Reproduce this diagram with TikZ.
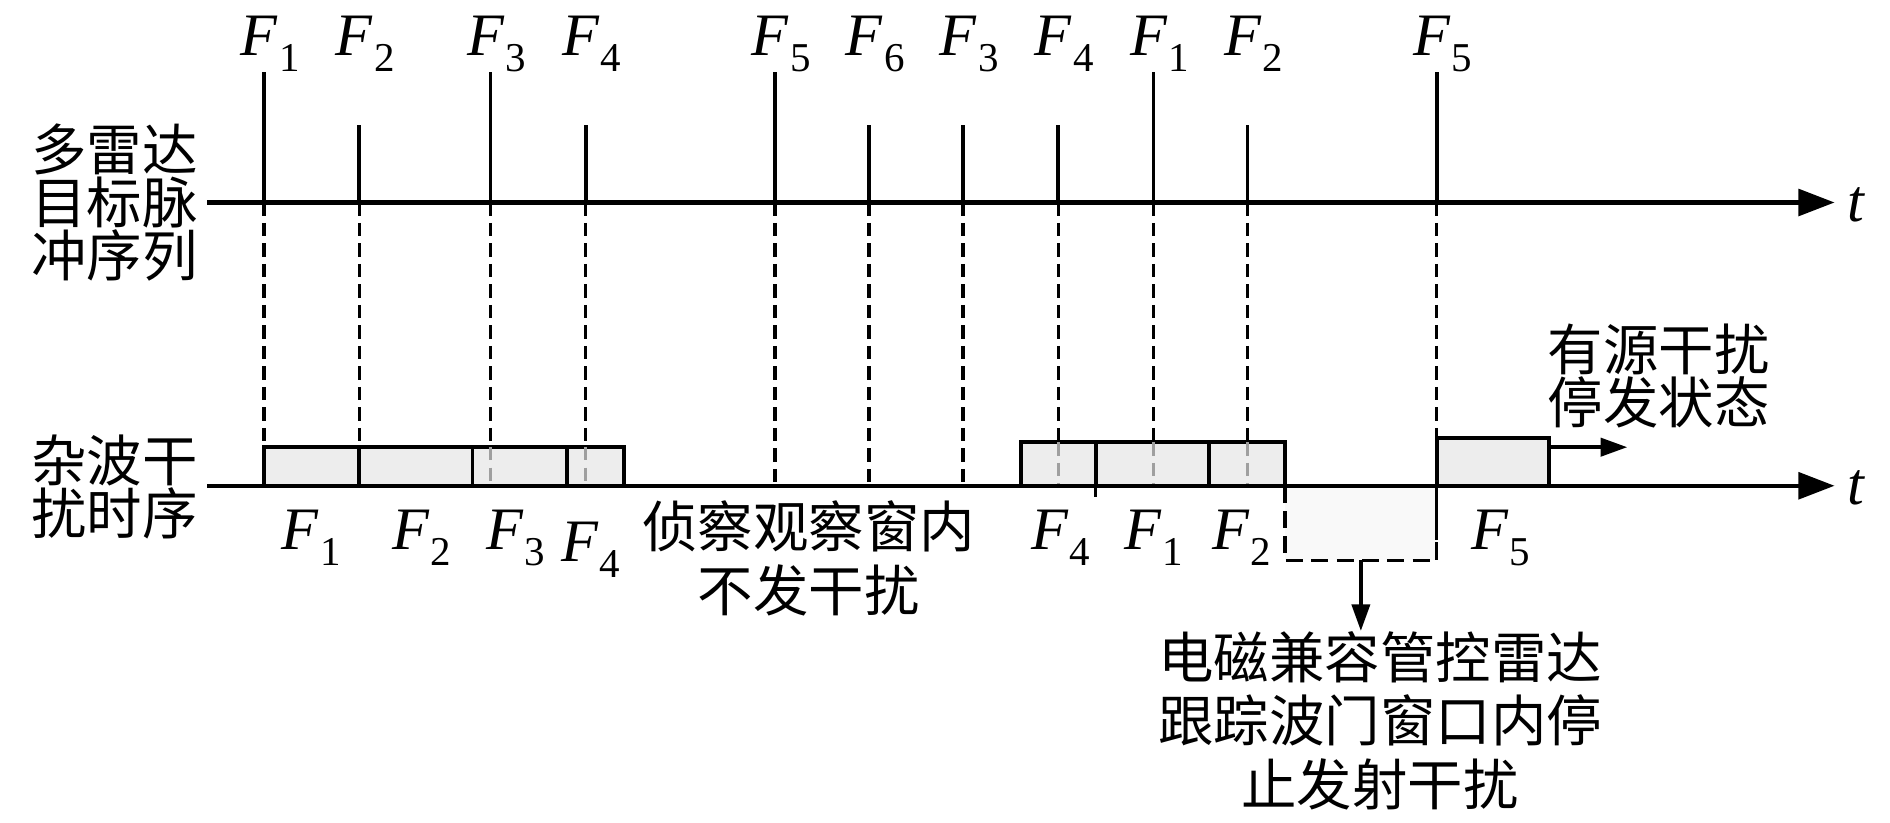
\documentclass[tikz,border=0pt]{standalone}
\usepackage{fontspec}
\setmainfont{Liberation Serif}
\newfontfamily\cjk{Noto Sans CJK SC}
\usetikzlibrary{arrows.meta}
\newcommand{\Fl}[1]{\textit{F}\kern1pt\raisebox{-13pt}{\fontsize{34}{34}\selectfont #1}}
\begin{document}
\begin{tikzpicture}[x=1pt,y=-1pt,
  axis/.style={line width=3.6pt,-{Triangle[length=30pt,width=22pt]}},
  pulse/.style={line width=3.1pt},
  dsh/.style={line width=2.8pt,dash pattern=on 11pt off 6pt},
  dshin/.style={line width=2.8pt,dash pattern=on 11pt off 6pt,gray!75},
  jam/.style={line width=3.3pt,fill=gray!14},
  flab/.style={font=\fontsize{50}{50}\selectfont,inner sep=0pt},
  cn/.style={font=\cjk\fontsize{46}{44}\selectfont,inner sep=0pt,align=center},
  cnb/.style={font=\cjk\fontsize{46}{53}\selectfont,inner sep=0pt,align=center}]
\useasboundingbox (0,0) rectangle (1568,682);
% axes
\coordinate (a1s) at (172,168); \coordinate (a1e) at (1522,168);
\coordinate (a2s) at (172,403); \coordinate (a2e) at (1522,403);
\draw[axis] (a1s) -- (a1e);
\node[flab,font=\itshape\fontsize{50}{50}\selectfont] (t1) at (1540,170) {t};
% jamming boxes
\draw[jam] (219,371) rectangle (518,403);
\draw[jam] (847,367) rectangle (1066,403);
\draw[jam] (1192,363) rectangle (1285,403);
\draw[line width=2.8pt,dash pattern=on 14pt off 7pt,fill=gray!5] (1066,403) rectangle (1192,465);
% dashed projections
\foreach \x/\b in {219/371,298/371,407/371,486/371,643/403,721/403,799/403,878/367,957/367,1035/367,1192/363}
  \draw[dsh] (\x,168) -- (\x,\b);
\foreach \x in {407,486} \draw[dshin] (\x,371) -- (\x,403);
\foreach \x in {878,957,1035} \draw[dshin] (\x,367) -- (\x,403);
\draw[dsh] (1192,403) -- (1192,465);
% box dividers
\foreach \x in {298,392,470} \draw[line width=3.3pt] (\x,371) -- (\x,403);
\foreach \x in {909,1003} \draw[line width=3.3pt] (\x,367) -- (\x,403);
\draw[line width=2.8pt] (909,403) -- (909,412);
\draw[axis] (a2s) -- (a2e);
\node[flab,font=\itshape\fontsize{50}{50}\selectfont] (t2) at (1540,405) {t};
% pulses and top labels
\foreach \x/\h/\n [count=\i] in {219/60/1,298/104/2,407/60/3,486/104/4,643/60/5,721/104/6,799/104/3,878/104/4,957/60/1,1035/104/2,1192/60/5}{
  \coordinate (p\i) at (\x,\h);
  \coordinate (q\i) at (\x,168);
  \draw[pulse] (p\i) -- (q\i);
  \node[flab,anchor=base] (top\i) at (\x+5,46) {\Fl{\n}};
}
% bottom labels
\foreach \x/\y/\n [count=\i] in {258/456/1,350/456/2,428/456/3,490/466/4,880/456/4,957/456/1,1030/456/2,1245/456/5}
  \node[flab,anchor=base] (bot\i) at (\x,\y) {\Fl{\n}};
% left labels
\node[cn] (lab1) at (95,168) {多雷达\\目标脉\\冲序列};
\node[cn] (lab2) at (95,404) {杂波干\\扰时序};
% notes
\node[cnb] (obs) at (671,463) {侦察观察窗内\\不发干扰};
\node[cn,align=left,anchor=west] (act) at (1284,312) {有源干扰\\停发状态};
\coordinate (jarr) at (1285,371);
\coordinate (jend) at (1350,371);
\draw[line width=3pt,-{Triangle[length=22pt,width=15pt]}] (jarr) -- (jend);
\node[cnb] (emc) at (1145,598) {电磁兼容管控雷达\\跟踪波门窗口内停\\止发射干扰};
\coordinate (gate) at (1129,465);
\draw[line width=3pt,-{Triangle[length=22pt,width=15pt]}] (gate) -- (emc.north -| gate);
\end{tikzpicture}
\end{document}
